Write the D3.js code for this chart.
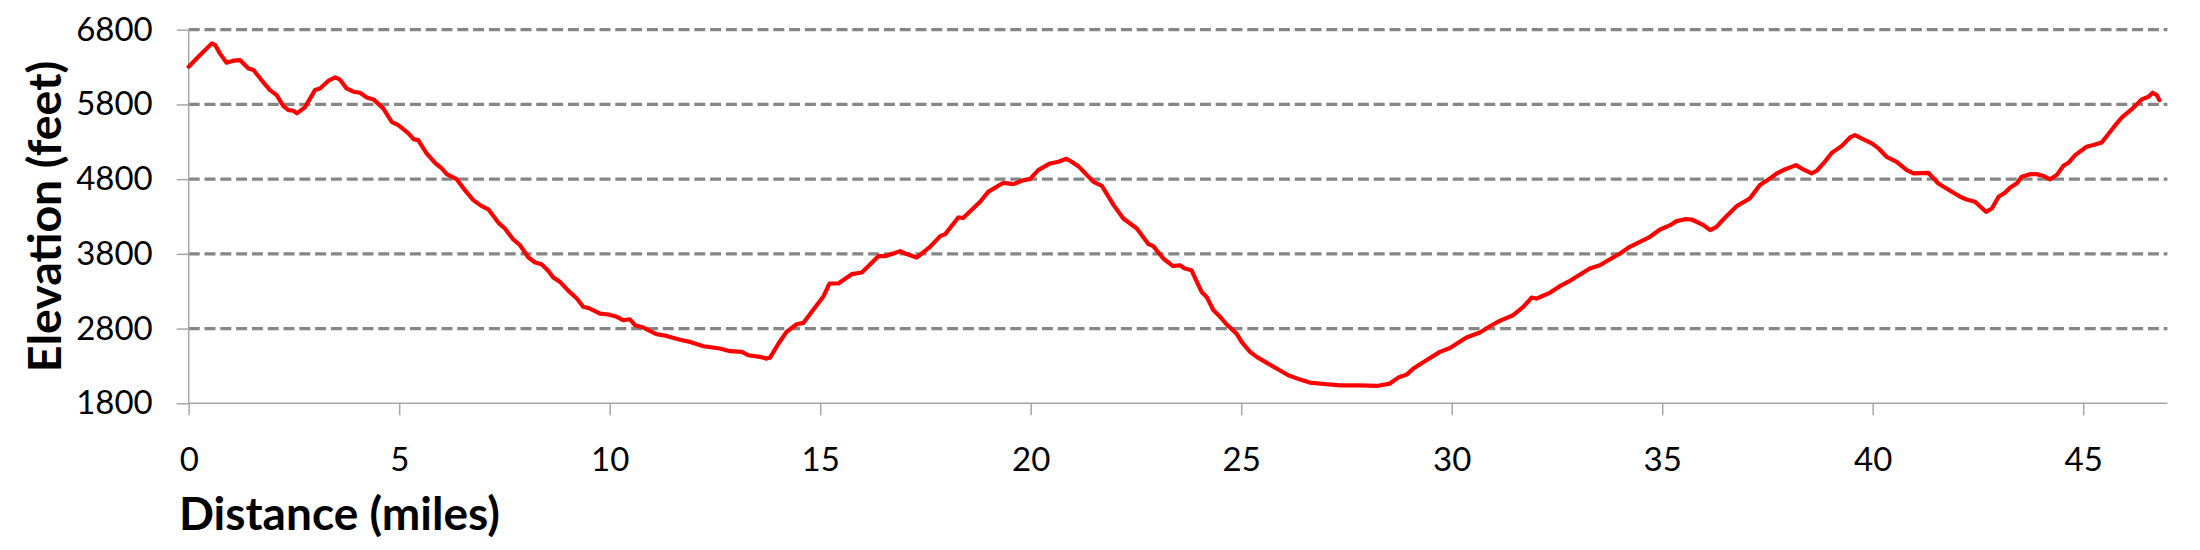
<!DOCTYPE html>
<html>
<head>
<meta charset="utf-8">
<script src="https://cdn.jsdelivr.net/npm/d3@7"></script>
<style>
  html, body { margin: 0; padding: 0; background: #ffffff; }
  svg { display: block; }
  text { font-family: Lato, "Open Sans", sans-serif; fill: #000000; }
</style>
</head>
<body>
<div id="chart"></div>
<script>
// distance along the route (miles)
let distance = [0, 0.27, 0.55, 0.63, 0.74, 0.90, 1.06, 1.22, 1.30, 1.42, 1.54, 1.73, 1.93, 2.09, 2.25, 2.37, 2.49, 2.57, 2.76, 3.00,
  3.12, 3.32, 3.48, 3.59, 3.75, 3.91, 4.07, 4.23, 4.39, 4.62, 4.82, 4.98, 5.22, 5.34, 5.45, 5.65, 5.85, 6.01, 6.13, 6.37,
  6.56, 6.76, 6.96, 7.12, 7.36, 7.51, 7.71, 7.87, 8.07, 8.23, 8.38, 8.54, 8.66, 8.82, 9.02, 9.22, 9.37, 9.53, 9.77, 9.97,
  10.17, 10.32, 10.48, 10.60, 10.80, 11.12, 11.35, 11.67,
  11.91, 12.23, 12.62, 12.86, 13.14, 13.29, 13.57, 13.73, 13.81, 14.01, 14.20, 14.44, 14.60, 14.84, 15.08, 15.22, 15.43, 15.75, 15.99, 16.19,
  16.38, 16.54, 16.90, 17.02, 17.29, 17.61, 17.85, 17.97, 18.28, 18.40, 18.80, 18.99, 19.35, 19.59, 19.83, 19.98, 20.18, 20.46, 20.66, 20.85,
  20.97, 21.13, 21.49, 21.69, 21.97, 22.20, 22.36, 22.52, 22.80, 22.91, 23.15,
  23.38, 23.54, 23.66, 23.82, 23.90, 24.06, 24.18, 24.34, 24.50, 24.65, 24.89, 25.01, 25.21, 25.37, 25.61, 25.84, 26.12, 26.40, 26.63, 27.03,
  27.35, 27.82, 28.22, 28.53, 28.73, 28.93, 29.09, 29.40, 29.72, 29.96, 30.35, 30.67, 30.91, 31.14, 31.46, 31.70, 31.90, 32.02, 32.14, 32.33,
  32.57, 32.81, 33.09, 33.28, 33.52, 33.72, 34.00, 34.23, 34.47, 34.71, 34.95,
  35.19, 35.34, 35.54, 35.70, 35.98, 36.14, 36.29, 36.45, 36.61, 36.77, 37.08, 37.32, 37.56, 37.72, 37.91, 38.18, 38.35, 38.55, 38.67, 38.83,
  39.03, 39.26, 39.46, 39.58, 39.78, 39.98, 40.14, 40.33, 40.57, 40.81, 40.97, 41.32, 41.56, 41.84, 42.08, 42.23, 42.43, 42.69, 42.83, 42.99,
  43.14, 43.26, 43.42, 43.54, 43.74, 43.89, 44.05, 44.21, 44.37, 44.53, 44.65, 44.81, 45.08, 45.24, 45.44, 45.72, 45.92, 46.15, 46.39, 46.55,
  46.65, 46.75, 46.81]

// elevation at each distance (feet)
let elevation = [6305, 6461, 6617, 6595, 6483, 6358, 6385, 6394, 6349, 6282, 6260, 6126, 5992, 5925, 5778, 5724, 5715, 5680, 5760, 5992,
  6014, 6117, 6162, 6135, 6014, 5970, 5956, 5894, 5867, 5747, 5568, 5523, 5412, 5336, 5322, 5144, 5019, 4943, 4867, 4796,
  4653, 4519, 4439, 4394, 4215, 4139, 3992, 3916, 3751, 3684, 3662, 3573, 3483, 3425, 3305, 3202, 3091, 3068, 3001, 2988,
  2957, 2912, 2925, 2845, 2814, 2724, 2702, 2650,
  2622, 2564, 2533, 2497, 2488, 2443, 2421, 2398, 2412, 2600, 2756, 2858, 2876, 3055, 3233, 3403, 3403, 3528, 3550, 3662,
  3769, 3769, 3836, 3805, 3751, 3894, 4037, 4064, 4287, 4282, 4497, 4630, 4751, 4733, 4787, 4800, 4921, 5010, 5032, 5072,
  5032, 4974, 4764, 4711, 4452, 4273, 4206, 4139, 3930, 3903, 3738,
  3635, 3648, 3604, 3581, 3483, 3291, 3224, 3046, 2957, 2858, 2733, 2622, 2488, 2421, 2341, 2265, 2175, 2117, 2077, 2055,
  2041, 2041, 2032, 2064, 2144, 2184, 2265, 2376, 2488, 2541, 2680, 2747, 2831, 2903, 2979, 3090, 3215, 3202, 3233, 3278,
  3367, 3439, 3537, 3604, 3648, 3715, 3805, 3894, 3961, 4028, 4126,
  4184, 4238, 4264, 4260, 4184, 4117, 4162, 4260, 4349, 4439, 4541, 4720, 4809, 4876, 4930, 4988, 4930, 4876, 4912, 5010,
  5153, 5242, 5358, 5389, 5331, 5278, 5211, 5099, 5032, 4921, 4876, 4885, 4742, 4644, 4564, 4528, 4497, 4363, 4407, 4564,
  4617, 4684, 4742, 4831, 4867, 4867, 4845, 4796, 4854, 4979, 5019, 5122, 5233, 5256, 5291, 5492, 5626, 5733, 5867, 5903,
  5956, 5925, 5858]

let xTicks = [0, 5, 10, 15, 20, 25, 30, 35, 40, 45]
let yTicks = [1800, 2800, 3800, 4800, 5800, 6800]
let xMax = 47

let margin = { top: 29.7, left: 188.7, right: 32.6, bottom: 146.7 },
  width = 2200 - margin.left - margin.right,
  height = 550 - margin.top - margin.bottom

let svg = d3.select('#chart')
  .append('svg')
  .attr('width', 2200)
  .attr('height', 550)

let g = svg.append('g').attr('transform', 'translate(' + margin.left + ',' + margin.top + ')')

let x = d3.scaleLinear().domain([0, xMax]).range([0, width])
let y = d3.scaleLinear().domain([yTicks[0], yTicks[yTicks.length - 1]]).range([height, 0])

// dashed horizontal gridlines (not on the base line)
g.append('g')
  .selectAll('line')
  .data(yTicks.slice(1))
  .enter().append('line')
  .attr('x1', 0)
  .attr('x2', width)
  .attr('y1', d => y(d))
  .attr('y2', d => y(d))
  .attr('stroke', '#868686')
  .attr('stroke-width', 3.3)
  .attr('stroke-dasharray', '11,4.8')

// y axis
let yAxis = g.append('g')
  .attr('class', 'axis axis--y')
  .call(d3.axisLeft(y).tickValues(yTicks).tickSize(12).tickPadding(24).tickFormat(d => d))
yAxis.select('.domain').attr('stroke', '#a6a6a6').attr('stroke-width', 1.5).attr('d', 'M0,' + height + 'V0')
yAxis.selectAll('.tick line').attr('stroke', '#a6a6a6').attr('stroke-width', 1.5)
yAxis.selectAll('.tick text')
  .attr('font-size', 33)
  .attr('fill', '#000')
  .style('font-family', 'Lato, sans-serif')

// x axis
let xAxis = g.append('g')
  .attr('class', 'axis axis--x')
  .attr('transform', 'translate(0,' + height + ')')
  .call(d3.axisBottom(x).tickValues(xTicks).tickSize(12).tickPadding(32).tickFormat(d => d))
xAxis.select('.domain').attr('stroke', '#a6a6a6').attr('stroke-width', 1.5).attr('d', 'M0,0H' + width)
xAxis.selectAll('.tick line').attr('stroke', '#a6a6a6').attr('stroke-width', 1.5)
xAxis.selectAll('.tick text')
  .attr('font-size', 33)
  .attr('fill', '#000')
  .style('font-family', 'Lato, sans-serif')

// elevation profile
let points = distance.map((d, i) => ({ miles: d, feet: elevation[i] }))

let line = d3.line()
  .x(d => x(d.miles))
  .y(d => y(d.feet))

g.append('path')
  .datum(points)
  .attr('d', line)
  .attr('fill', 'none')
  .attr('stroke', '#ff0000')
  .attr('stroke-width', 4.2)
  .attr('stroke-linejoin', 'round')
  .attr('stroke-linecap', 'round')

// axis titles
svg.append('text')
  .attr('x', 179)
  .attr('y', 530)
  .attr('font-size', 46)
  .attr('font-weight', 'bold')
  .text('Distance (miles)')

svg.append('text')
  .attr('transform', 'translate(61,' + (margin.top + height / 2) + ') rotate(-90)')
  .attr('text-anchor', 'middle')
  .attr('font-size', 46.5)
  .attr('font-weight', 'bold')
  .text('Elevation (feet)')
</script>
</body>
</html>
